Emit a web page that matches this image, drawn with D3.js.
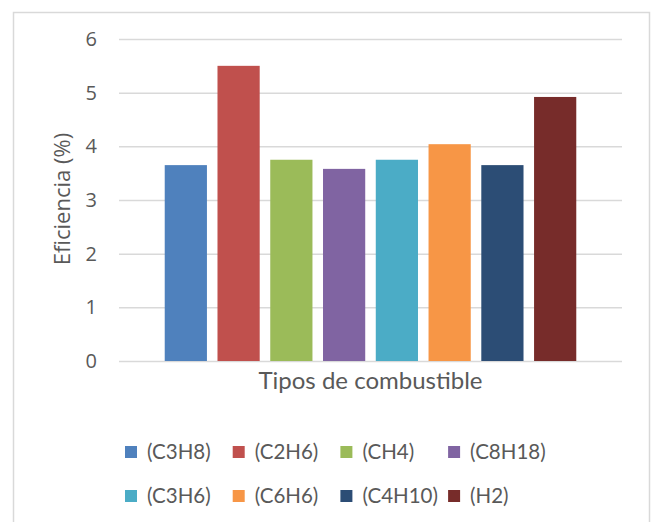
<!DOCTYPE html>
<html>
<head>
<meta charset="utf-8">
<script src="https://cdn.jsdelivr.net/npm/d3@7"></script>
<style>
  body { margin: 0; background: #fff; }
  svg { display: block; }
</style>
</head>
<body>
<div id="container"></div>
<script>
// values
let category = "Tipos de combustible"
let fuels = ["(C3H8)", "(C2H6)", "(CH4)", "(C8H18)", "(C3H6)", "(C6H6)", "(C4H10)", "(H2)"]
let efficiency = [3.65, 5.5, 3.75, 3.58, 3.75, 4.04, 3.65, 4.92]
let colors = ["#4F81BD", "#C0504D", "#9BBB59", "#8064A2", "#4BACC6", "#F79646", "#2C4D75", "#772C2A"]
let yTicks = [0, 1, 2, 3, 4, 5, 6]

function drawChart() {
    let width = 653
    let height = 522
    let margin = {top: 39, right: 31, bottom: 161, left: 119}
    let textColor = "#595959"

    let data = fuels.map((f, i) => ({name: f, value: efficiency[i], color: colors[i]}))

    let svg = d3.select("#container")
        .append("svg")
        .attr("width", width)
        .attr("height", height)

    // chart border
    svg.append("rect")
        .attr("x", 13.5)
        .attr("y", 12.5)
        .attr("width", 636)
        .attr("height", 530)
        .attr("fill", "none")
        .attr("stroke", "#d9d9d9")
        .attr("stroke-width", 1.5)

    let x0 = d3.scaleBand()
        .domain([category])
        .range([margin.left, width - margin.right])
        .paddingInner(0.1)
        .paddingOuter(0.1)

    let x1 = d3.scaleBand()
        .domain(fuels)
        .range([0, x0.bandwidth()])
        .paddingInner(0.2)

    let y = d3.scaleLinear()
        .domain([0, 6])
        .range([height - margin.bottom, margin.top])

    // gridlines + tick labels
    svg.append("g")
        .attr("transform", `translate(${margin.left},0)`)
        .call(d3.axisLeft(y).tickValues(yTicks)
            .tickFormat(d3.format("d"))
            .tickSize(-(width - margin.left - margin.right))
            .tickPadding(22))
        .call(g => g.select(".domain").remove())
        .call(g => g.selectAll(".tick line")
            .attr("stroke", "#d9d9d9")
            .attr("stroke-width", 1.5))
        .call(g => g.selectAll(".tick text")
            .attr("fill", textColor)
            .attr("font-family", "'Open Sans', sans-serif")
            .attr("font-size", 20))

    // bars
    svg.append("g")
        .selectAll("rect")
        .data(data)
        .join("rect")
            .attr("x", d => x0(category) + x1(d.name))
            .attr("y", d => y(d.value))
            .attr("width", x1.bandwidth())
            .attr("height", d => y(0) - y(d.value))
            .attr("fill", d => d.color)

    // category label under the axis
    svg.append("text")
        .attr("x", x0(category) + x0.bandwidth() / 2)
        .attr("y", 389)
        .attr("text-anchor", "middle")
        .attr("fill", textColor)
        .attr("font-family", "Lato, sans-serif")
        .attr("font-size", 24)
        .text(category)

    // y title
    svg.append("text")
        .attr("transform", "translate(70,199) rotate(-90)")
        .attr("text-anchor", "middle")
        .attr("fill", textColor)
        .attr("font-family", "'Open Sans', sans-serif")
        .attr("font-size", 22)
        .text("Eficiencia (%)")

    // legend, 4 per row
    let legend = svg.append("g")
        .selectAll("g")
        .data(data)
        .join("g")
            .attr("transform", (d, i) => `translate(${125 + (i % 4) * 107.7},${452 + Math.floor(i / 4) * 44})`)

    legend.append("rect")
        .attr("x", 0)
        .attr("y", -6)
        .attr("width", 12)
        .attr("height", 12)
        .attr("fill", d => d.color)

    legend.append("text")
        .attr("x", 22)
        .attr("dy", "0.35em")
        .attr("fill", textColor)
        .attr("font-family", "Lato, sans-serif")
        .attr("font-size", 20.5)
        .text(d => d.name)

    return svg.node()
}

drawChart()
</script>
</body>
</html>
